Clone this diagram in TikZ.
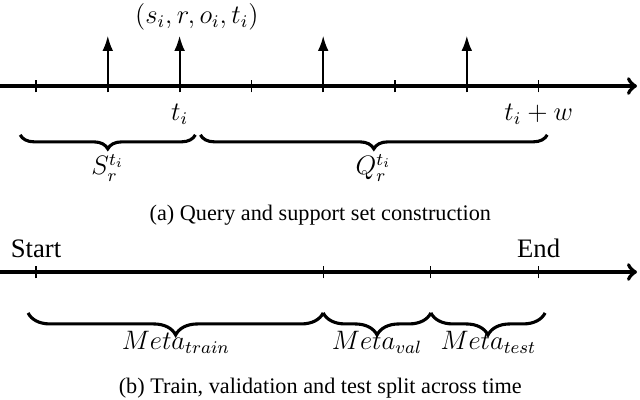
\documentclass[tikz,border=0pt]{standalone}
\usepackage{fontspec}
\setmainfont{Liberation Serif}
\usetikzlibrary{arrows.meta,decorations.pathreplacing}
\tikzset{
  % timeline, ticks and events
  axisline/.style = {-to, line width=1.8pt},
  tickmark/.style = {line width=0.5pt},
  event/.style    = {-{Latex[length=2.4mm,width=1.7mm]}, line width=0.9pt},
  brc/.style      = {decorate, decoration={brace, mirror, amplitude=#1}, line width=1.4pt},
  lbl/.style      = {font=\large, inner sep=1pt},
  subcap/.style   = {font=\normalsize, inner sep=1pt},
}

\begin{document}
\begin{tikzpicture}[x=32.3pt,y=32.3pt]
\useasboundingbox (-0.501,-4.359) rectangle (8.412,1.198);
% (a) query and support set
\coordinate (a0) at (-0.5,0);
\coordinate (a1) at (8.37,0);
\draw[axisline] (a0) -- (a1);
\foreach \x in {0,3,5,7} {\draw[tickmark] (\x,-0.09) -- (\x,0.09);}
\foreach \x in {1,2,4,6} {\draw[event] (\x,-0.09) -- (\x,0.70);}
\node[lbl] (tup) at (2.24,0.96) {$(s_i, r, o_i, t_i)$};
\node[lbl] (ti)  at (2,-0.39) {$t_i$};
\node[lbl] (tiw) at (7,-0.39) {$t_i + w$};
\draw[brc=6.3pt] (-0.22,-0.68) -- (2.22,-0.68);
\draw[brc=6.3pt] (2.29,-0.68) -- (7.12,-0.68);
\node[lbl] (sup) at (1,-1.14)    {$S_r^{t_i}$};
\node[lbl] (qry) at (4.70,-1.14) {$Q_r^{t_i}$};
\node[subcap] (capa) at (3.96,-1.80) {(a) Query and support set construction};

% (b) split across time
\coordinate (b0) at (-0.5,-2.59);
\coordinate (b1) at (8.37,-2.59);
\draw[axisline] (b0) -- (b1);
\foreach \x in {0,4,5.5,7} {\draw[tickmark] (\x,-2.68) -- (\x,-2.50);}
\node[subcap, font=\large] (start) at (0,-2.26) {Start};
\node[subcap, font=\large] (end)   at (7,-2.26) {End};
\draw[brc=9.9pt] (-0.11,-3.16) -- (4,-3.16);
\draw[brc=9.9pt] (4,-3.16) -- (5.5,-3.16);
\draw[brc=9.9pt] (5.5,-3.16) -- (7.09,-3.16);
\node[lbl] (mtr) at (1.95,-3.57) {$Meta_{train}$};
\node[lbl] (mva) at (4.75,-3.57) {$Meta_{val}$};
\node[lbl] (mte) at (6.30,-3.57) {$Meta_{test}$};
\node[subcap] (capb) at (3.96,-4.21) {(b) Train, validation and test split across time};
\end{tikzpicture}
\end{document}
